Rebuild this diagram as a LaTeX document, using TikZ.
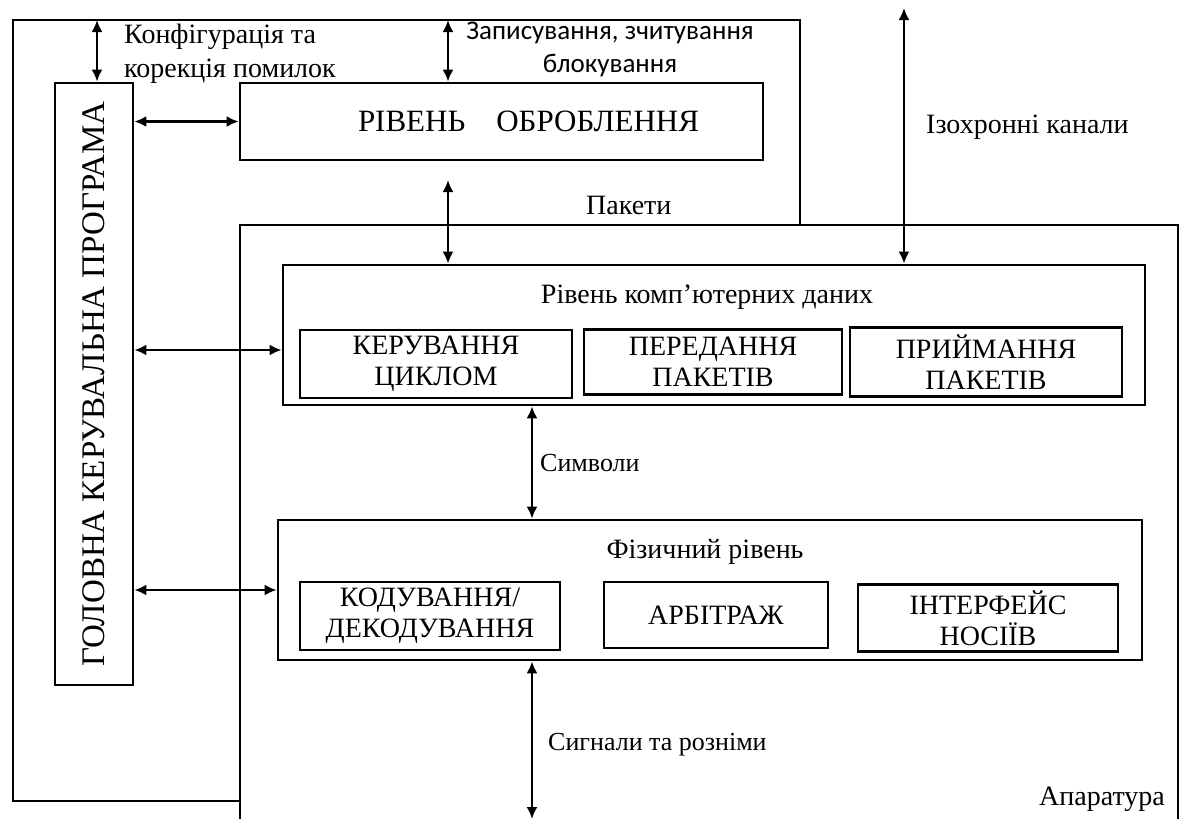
\documentclass[tikz,border=0pt]{standalone}
\usepackage{fontspec}
\setmainfont{Liberation Serif}
\newfontfamily\sansf{Carlito}
\usetikzlibrary{positioning,arrows.meta}
\tikzset{
    layer/.style={draw, line width=2.8pt, inner sep=0pt},
    unit/.style={draw, line width=2.6pt, align=center, inner sep=0pt,
        font=\fontsize{28}{31}\selectfont},
    link/.style={line width=2.2pt, {Latex[length=12pt,width=11pt]}-{Latex[length=12pt,width=11pt]}},
    tag/.style={inner sep=0pt, font=\fontsize{28}{27}\selectfont}
}
\begin{document}
\begin{tikzpicture}[x=1pt, y=-1pt]
    \useasboundingbox (0,0) rectangle (1181,819);
    % software block and hardware block
    \draw[line width=2.8pt] (13,20) rectangle (800,801);
    \fill[white] (240,225) rectangle (1178,819);
    \draw[line width=2.8pt] (240,819) |- (1178,225) -- (1178,819);
    \node[tag, anchor=south east] at (1165,812) {Апаратура};

    % boxes
    \node[layer, minimum width=78pt, minimum height=602pt] (main) at (94,384) {};
    \node[rotate=90, font=\fontsize{33}{34}\selectfont] at (main.center) {ГОЛОВНА КЕРУВАЛЬНА ПРОГРАМА};
    \node[layer, minimum width=523pt, minimum height=77pt, font=\fontsize{31}{32}\selectfont] (proc) at (501.5,121.5) {\hspace*{54pt}РІВЕНЬ\quad ОБРОБЛЕННЯ};
    \node[layer, minimum width=862pt, minimum height=140pt] (data) at (714,335) {};
    \node[tag] at (707,297) {Рівень комп'ютерних даних};
    \node[unit, minimum width=272pt, minimum height=68pt] (loop) at (436,364) {КЕРУВАННЯ\\ЦИКЛОМ};
    \node[unit, minimum width=258pt, minimum height=65pt] (send) at (713,362) {ПЕРЕДАННЯ\\ПАКЕТІВ};
    \node[unit, minimum width=272pt, minimum height=69pt] (recv) at (986,362) {ПРИЙМАННЯ\\ПАКЕТІВ};
    \node[layer, minimum width=864pt, minimum height=140pt] (phys) at (710,590) {};
    \node[tag] at (705,552) {Фізичний рівень};
    \node[unit, minimum width=260pt, minimum height=68pt] (code) at (430,616) {КОДУВАННЯ/\\ДЕКОДУВАННЯ};
    \node[unit, minimum width=224pt, minimum height=66pt] (arb) at (716,615) {АРБІТРАЖ};
    \node[unit, minimum width=260pt, minimum height=67pt] (media) at (988,618) {ІНТЕРФЕЙС\\НОСІЇВ};

    % free ends of the arrows
    \coordinate (cfgTop) at (97,20);
    \coordinate (wrTop) at (448,20);
    \coordinate (pkTop) at (448,180);
    \coordinate (isoTop) at (904,8);
    \coordinate (symX) at (532,0);
    \coordinate (sigEnd) at (532,819);

    % arrows
    \draw[link] (cfgTop) -- (cfgTop |- main.north);
    \draw[link] (wrTop) -- (wrTop |- proc.north);
    \draw[link] (main.east |- proc.west) -- (proc.west);
    \draw[link] (pkTop) -- (pkTop |- data.north);
    \draw[link] (isoTop) -- (isoTop |- data.north);
    \draw[link] ([yshift=-15pt]main.east |- data.west) -- ([yshift=-15pt]data.west);
    \draw[link] (main.east |- phys.west) -- (phys.west);
    \draw[link] (symX |- data.south) -- (symX |- phys.north);
    \draw[link] (symX |- phys.south) -- (sigEnd);

    % arrow labels
    \node[tag, anchor=north west, align=left, font=\fontsize{28}{34}\selectfont] at (124,24) {Конфігурація та\\корекція помилок};
    \node[tag, anchor=north, align=center, font=\sansf\fontsize{27}{33}\selectfont] at (610,22) {Записування, зчитування\\блокування};
    \node[tag, anchor=west] at (586,205) {Пакети};
    \node[tag, anchor=west] at (926,127) {Ізохронні канали};
    \node[tag, anchor=west, font=\fontsize{26}{27}\selectfont] at (540,463) {Символи};
    \node[tag, anchor=west, font=\fontsize{26}{27}\selectfont] at (548,745) {Сигнали та розніми};
\end{tikzpicture}
\end{document}
